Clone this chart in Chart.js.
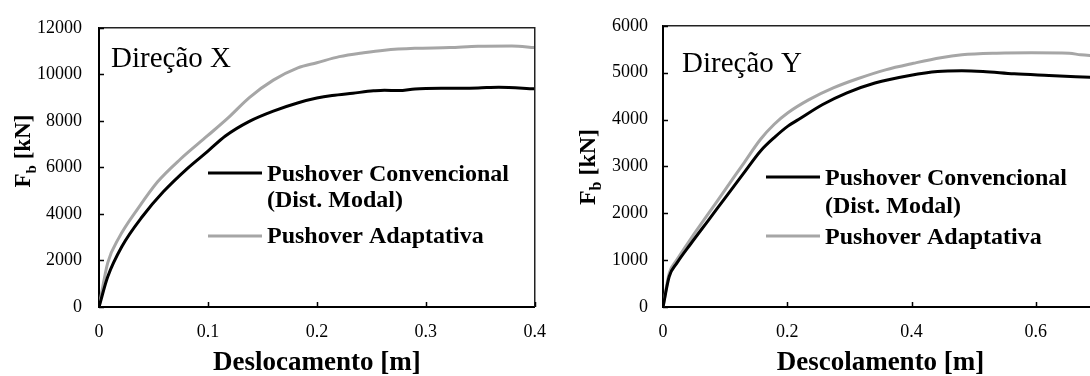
<!DOCTYPE html>
<html>
<head>
<meta charset="utf-8">
<script src="https://cdn.jsdelivr.net/npm/chart.js@4.4.1/dist/chart.umd.min.js"></script>
<style>
html, body { margin: 0; padding: 0; background: #fff; overflow: hidden; }
#wrap { position: relative; width: 1090px; height: 376px; overflow: hidden; background: #fff; }
canvas { position: absolute; top: 0; }
#chartX { left: 0; }
#chartY { left: 545px; }
</style>
</head>
<body>
<div id="wrap">
  <canvas id="chartX" width="560" height="376" style="width:560px;height:376px"></canvas>
  <canvas id="chartY" width="570" height="376" style="width:570px;height:376px"></canvas>
</div>
<script>
// Direção X  (displacement [m] / base shear [kN])
const convDispX = [0, 0.008, 0.021, 0.040, 0.059, 0.081, 0.100, 0.116, 0.138, 0.160, 0.183, 0.200, 0.214, 0.233, 0.252, 0.262, 0.275, 0.290, 0.300, 0.322, 0.348, 0.367, 0.400];
const convForceX = [0, 1300, 2600, 3900, 4950, 5950, 6700, 7350, 7980, 8420, 8780, 8980, 9090, 9190, 9290, 9320, 9300, 9370, 9390, 9400, 9415, 9445, 9380];
const adaptDispX = [0, 0.008, 0.018, 0.0365, 0.054, 0.0746, 0.0994, 0.119, 0.138, 0.160, 0.1825, 0.200, 0.2206, 0.243, 0.262, 0.290, 0.322, 0.348, 0.379, 0.400];
const adaptForceX = [0, 1900, 2950, 4280, 5390, 6350, 7350, 8150, 9000, 9750, 10280, 10500, 10760, 10930, 11040, 11120, 11150, 11210, 11220, 11150];

// Direção Y
const convDispY = [0, 0.010, 0.022, 0.045, 0.073, 0.101, 0.129, 0.157, 0.179, 0.201, 0.218, 0.257, 0.296, 0.341, 0.397, 0.442, 0.481, 0.515, 0.565, 0.621, 0.687, 0.720];
const convForceY = [0, 650, 930, 1355, 1850, 2345, 2840, 3330, 3615, 3860, 4000, 4320, 4570, 4780, 4940, 5025, 5040, 5025, 4975, 4940, 4900, 4880];
const adaptDispY = [0, 0.010, 0.022, 0.045, 0.073, 0.101, 0.129, 0.157, 0.179, 0.201, 0.235, 0.274, 0.313, 0.358, 0.403, 0.447, 0.481, 0.537, 0.593, 0.654, 0.672, 0.687, 0.720];
const adaptForceY = [0, 720, 1000, 1460, 1990, 2520, 3050, 3580, 3900, 4145, 4425, 4675, 4870, 5060, 5200, 5320, 5380, 5415, 5425, 5415, 5380, 5365, 5350];

const seriesNames = ['Pushover Convencional (Dist. Modal)', 'Pushover Adaptativa'];
const legendLines = [['Pushover Convencional', '(Dist. Modal)'], ['Pushover Adaptativa']];
const xTitles = ['Deslocamento [m]', 'Descolamento [m]'];
const panelTitles = ['Direção X', 'Direção Y'];

const FAMILY = '"Liberation Serif", "Times New Roman", serif';
Chart.defaults.font.family = FAMILY;
Chart.defaults.color = '#000';

function pts(d, f) {
  return d.map((x, i) => ({ x: x, y: f[i] }));
}

const decor = {
  id: 'decor',
  afterDraw(chart, args, o) {
    const { ctx, chartArea: a, scales } = chart;
    ctx.save();
    // top and right side of the frame
    ctx.strokeStyle = '#222';
    ctx.lineWidth = 1.5;
    ctx.beginPath();
    ctx.moveTo(a.left, a.top);
    ctx.lineTo(a.right, a.top);
    ctx.lineTo(a.right, a.bottom);
    ctx.stroke();

    // ticks pointing inwards
    ctx.strokeStyle = '#000';
    ctx.lineWidth = 1.5;
    ctx.beginPath();
    scales.y.ticks.forEach(t => {
      const p = Math.round(scales.y.getPixelForValue(t.value)) + 0.5;
      ctx.moveTo(a.left, p); ctx.lineTo(a.left + 5, p);
    });
    scales.x.ticks.forEach(t => {
      const p = Math.round(scales.x.getPixelForValue(t.value)) + 0.5;
      ctx.moveTo(p, a.bottom); ctx.lineTo(p, a.bottom - 5);
    });
    ctx.stroke();

    // panel label
    ctx.fillStyle = '#000';
    ctx.textAlign = 'left';
    ctx.textBaseline = 'alphabetic';
    ctx.font = '29px ' + FAMILY;
    ctx.fillText(o.title, o.titleX, o.titleY);

    // legend inside the plot
    ctx.font = 'bold 24px ' + FAMILY;
    o.legend.forEach((item, i) => {
      const ds = chart.data.datasets[i];
      ctx.strokeStyle = ds.borderColor;
      ctx.lineWidth = 3;
      ctx.beginPath();
      ctx.moveTo(o.legendX0, item.lineY);
      ctx.lineTo(o.legendX1, item.lineY);
      ctx.stroke();
      legendLines[i].forEach((txt, k) => {
        ctx.fillText(txt, o.legendTextX, item.base[k]);
      });
    });

    // y axis title F_b [kN]
    const s = o.yTitleSize;
    const big = 'bold ' + s + 'px ' + FAMILY;
    const small = 'bold ' + Math.round(s * 0.65) + 'px ' + FAMILY;
    ctx.font = big; const wF = ctx.measureText('F').width; const wR = ctx.measureText(' [kN]').width;
    ctx.font = small; const wb = ctx.measureText('b').width;
    ctx.translate(o.yTitleX, o.yTitleY);
    ctx.rotate(-Math.PI / 2);
    let x = -(wF + wb + wR) / 2;
    ctx.font = big; ctx.fillText('F', x, 0); x += wF;
    ctx.font = small; ctx.fillText('b', x, s * 0.25); x += wb;
    ctx.font = big; ctx.fillText(' [kN]', x, 0);
    ctx.restore();
  }
};

function makeChart(id, conv, adapt, cfg) {
  return new Chart(document.getElementById(id), {
    type: 'line',
    data: {
      datasets: [{
        label: seriesNames[0],
        data: conv,
        borderColor: '#000000',
        borderWidth: 3,
        pointRadius: 0,
        cubicInterpolationMode: 'monotone'
      }, {
        label: seriesNames[1],
        data: adapt,
        borderColor: '#a6a6a6',
        borderWidth: 3,
        pointRadius: 0,
        cubicInterpolationMode: 'monotone'
      }]
    },
    options: {
      responsive: false,
      animation: false,
      layout: { padding: { left: 0, top: 24, right: cfg.rightPad, bottom: 0 } },
      plugins: {
        legend: { display: false },
        tooltip: { enabled: false },
        decor: cfg.decor
      },
      scales: {
        x: {
          type: 'linear',
          min: 0,
          max: cfg.xMax,
          ticks: {
            stepSize: cfg.xStep,
            includeBounds: false,
            padding: 14,
            font: { size: 18 },
            callback: v => String(Math.round(v * 1000) / 1000)
          },
          grid: { display: false, drawTicks: false },
          border: { display: true, color: '#000', width: 2 },
          title: {
            display: true,
            text: cfg.xTitle,
            font: { size: 27, weight: 'bold', lineHeight: 1 },
            padding: { top: 0, bottom: -1 }
          },
          afterFit: s => { s.height = 69; }
        },
        y: {
          min: 0,
          max: cfg.yMax,
          ticks: {
            stepSize: cfg.yStep,
            padding: cfg.yPad,
            font: { size: 18 },
            callback: v => String(v)
          },
          grid: { display: false, drawTicks: false },
          border: { display: true, color: '#000', width: 2 },
          afterFit: s => { s.width = cfg.yWidth; }
        }
      }
    },
    plugins: [decor]
  });
}

makeChart('chartX', pts(convDispX, convForceX), pts(adaptDispX, adaptForceX), {
  xMax: 0.4, xStep: 0.1, yMax: 12000, yStep: 2000, yWidth: 99, yPad: 17, rightPad: 23,
  xTitle: xTitles[0],
  decor: {
    title: panelTitles[0], titleX: 111, titleY: 67,
    legendX0: 208, legendX1: 262, legendTextX: 267,
    legend: [{ lineY: 173, base: [181, 207] }, { lineY: 236, base: [243] }],
    yTitleX: 30, yTitleY: 151, yTitleSize: 23
  }
});

makeChart('chartY', pts(convDispY, convForceY), pts(adaptDispY, adaptForceY), {
  xMax: 0.7, xStep: 0.2, yMax: 6000, yStep: 1000, yWidth: 118, yPad: 15, rightPad: 17,
  xTitle: xTitles[1],
  decor: {
    title: panelTitles[1], titleX: 137, titleY: 72,
    legendX0: 221, legendX1: 275, legendTextX: 280,
    legend: [{ lineY: 177, base: [185, 213] }, { lineY: 236, base: [244] }],
    yTitleX: 50, yTitleY: 167, yTitleSize: 24
  }
});
</script>
</body>
</html>
